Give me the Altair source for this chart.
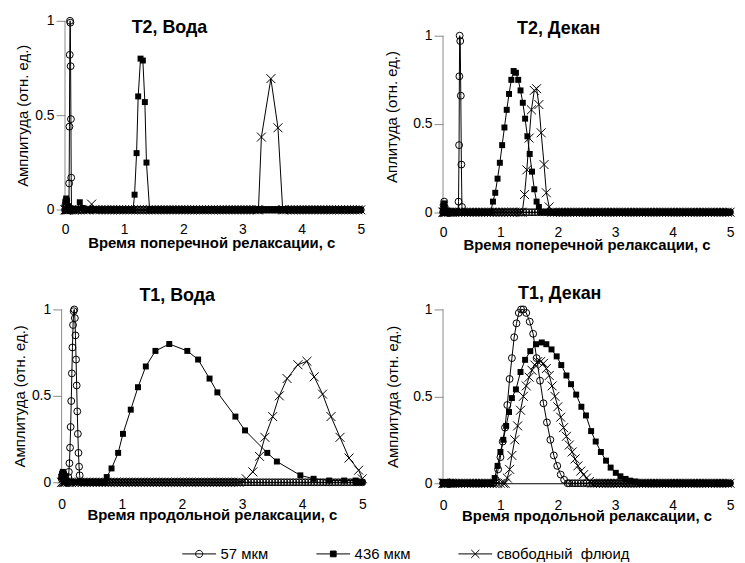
import altair as alt
import pandas as pd

FONT = "Liberation Sans"
SERIES = ["57 мкм", "436 мкм", "свободный \u00a0флюид"]

X_TICKS = [0, 1, 2, 3, 4, 5]
Y_TICKS = [0, 0.5, 1]

# sampling grid of the zero baseline (relaxation times, s)
BASE_X = [0.0, 0.01, 0.02, 0.03, 0.04, 0.05, 0.07, 0.1, 0.13, 0.16, 0.2, 0.25,
          0.3, 0.35, 0.4, 0.45, 0.5, 0.55, 0.6, 0.65, 0.7, 0.75, 0.8, 0.85, 0.9,
          0.95, 1.0, 1.05, 1.1, 1.15, 1.2, 1.25, 1.3, 1.35, 1.4, 1.45, 1.5, 1.55,
          1.6, 1.65, 1.7, 1.75, 1.8, 1.85, 1.9, 1.95, 2.0, 2.05, 2.1, 2.15, 2.2,
          2.25, 2.3, 2.35, 2.4, 2.45, 2.5, 2.55, 2.6, 2.65, 2.7, 2.75, 2.8, 2.85,
          2.9, 2.95, 3.0, 3.05, 3.1, 3.15, 3.2, 3.25, 3.3, 3.35, 3.4, 3.45, 3.5,
          3.55, 3.6, 3.65, 3.7, 3.75, 3.8, 3.85, 3.9, 3.95, 4.0, 4.05, 4.1, 4.15,
          4.2, 4.25, 4.3, 4.35, 4.4, 4.45, 4.5, 4.55, 4.6, 4.65, 4.7, 4.75, 4.8,
          4.85, 4.9, 4.95, 5.0]

# ---------------- T2, Вода ----------------
t2w_c_x = [0.065, 0.07, 0.075, 0.08, 0.085, 0.09, 0.095, 0.1, 0.105, 0.11]
t2w_c_y = [0.0, 0.14, 0.44, 0.82, 1.0, 0.99, 0.76, 0.48, 0.17, 0.0]
t2w_c_bx = [0.01, 0.02, 0.03]
t2w_c_by = [0.03, 0.05, 0.02]
t2w_s_x = [1.15, 1.176, 1.21, 1.237, 1.277, 1.316, 1.35, 1.377, 1.43]
t2w_s_y = [0.0, 0.08, 0.30, 0.60, 0.80, 0.79, 0.57, 0.25, 0.0]
t2w_s_bx = [0.01, 0.02, 0.03, 0.05, 0.25, 0.3]
t2w_s_by = [0.04, 0.06, 0.05, 0.02, 0.04, 0.01]
t2w_x_x = [3.27, 3.32, 3.48, 3.6, 3.68]
t2w_x_y = [0.0, 0.385, 0.694, 0.434, 0.0]
t2w_x_bx = [0.45]
t2w_x_by = [0.03]

# ---------------- T2, Декан ----------------
t2d_c_x = [0.26, 0.27, 0.28, 0.285, 0.29, 0.30, 0.31, 0.32, 0.33, 0.34]
t2d_c_y = [0.0, 0.06, 0.38, 0.77, 1.0, 0.97, 0.66, 0.27, 0.03, 0.0]
t2d_c_bx = [0.01, 0.02, 0.03]
t2d_c_by = [0.04, 0.06, 0.03]
t2d_s_x = [0.83, 0.87, 0.91, 0.95, 0.99, 1.03, 1.07, 1.11, 1.15, 1.19, 1.23, 1.27,
           1.31, 1.35, 1.39, 1.43, 1.47, 1.51, 1.55, 1.59, 1.63, 1.67, 1.71]
t2d_s_y = [0.0, 0.06, 0.11, 0.19, 0.28, 0.38, 0.48, 0.58, 0.67, 0.75, 0.80, 0.79,
           0.75, 0.69, 0.62, 0.53, 0.43, 0.33, 0.23, 0.13, 0.06, 0.03, 0.0]
t2d_s_bx = [0.01, 0.02, 0.03]
t2d_s_by = [0.03, 0.05, 0.02]
t2d_x_x = [1.38, 1.42, 1.46, 1.5, 1.54, 1.59, 1.63, 1.67, 1.71, 1.76, 1.8, 1.85, 1.9]
t2d_x_y = [0.0, 0.1, 0.24, 0.42, 0.58, 0.69, 0.7, 0.61, 0.45, 0.27, 0.11, 0.03, 0.0]
t2d_x_bx = []
t2d_x_by = []

# ---------------- T1, Вода ----------------
t1w_c_x = [0.10, 0.11, 0.12, 0.13, 0.14, 0.15, 0.16, 0.17, 0.18, 0.19, 0.20, 0.21,
           0.22, 0.23, 0.24, 0.25, 0.26, 0.27, 0.28, 0.29, 0.30, 0.31]
t1w_c_y = [0.0, 0.03, 0.06, 0.11, 0.2, 0.32, 0.47, 0.63, 0.78, 0.91, 0.99, 1.0,
           0.95, 0.85, 0.71, 0.56, 0.41, 0.28, 0.17, 0.09, 0.04, 0.0]
t1w_c_bx = [0.0, 0.01, 0.02, 0.03, 0.04, 0.05, 0.07]
t1w_c_by = [0.02, 0.04, 0.05, 0.05, 0.04, 0.03, 0.01]
t1w_s_x = [0.72, 0.75, 0.83, 0.94, 1.02, 1.15, 1.27, 1.40, 1.56, 1.79, 2.09, 2.27,
           2.46, 2.59, 2.89, 3.05, 3.42, 3.58, 3.97, 4.19, 4.45, 4.7, 4.89]
t1w_s_y = [0.0, 0.03, 0.08, 0.17, 0.28, 0.42, 0.55, 0.67, 0.76, 0.80, 0.76, 0.71,
           0.60, 0.52, 0.38, 0.30, 0.17, 0.12, 0.04, 0.02, 0.01, 0.01, 0.01]
t1w_s_bx = [0.0, 0.01, 0.02, 0.03, 0.05, 0.07]
t1w_s_by = [0.03, 0.05, 0.06, 0.05, 0.03, 0.01]
t1w_x_x = [2.95, 3.07, 3.18, 3.29, 3.38, 3.51, 3.62, 3.75, 3.93, 4.08, 4.2, 4.34,
           4.48, 4.63, 4.78, 4.94, 5.0]
t1w_x_y = [0.0, 0.02, 0.06, 0.15, 0.26, 0.38, 0.50, 0.60, 0.68, 0.70, 0.61, 0.51,
           0.38, 0.26, 0.14, 0.07, 0.02]
t1w_x_bx = [0.02]
t1w_x_by = [0.02]

# ---------------- T1, Декан ----------------
t1d_c_x = [0.88, 0.92, 0.96, 1.0, 1.04, 1.08, 1.12, 1.16, 1.2, 1.24, 1.28, 1.32,
           1.36, 1.40, 1.45, 1.51, 1.57, 1.63, 1.69, 1.75, 1.81, 1.87, 1.93, 1.99,
           2.05, 2.11, 2.17]
t1d_c_y = [0.0, 0.02, 0.08, 0.15, 0.24, 0.32, 0.45, 0.6, 0.72, 0.84, 0.92, 0.98,
           1.0, 1.0, 0.98, 0.93, 0.86, 0.72, 0.59, 0.46, 0.35, 0.25, 0.16, 0.1,
           0.05, 0.02, 0.0]
t1d_s_x = [0.84, 0.9, 0.95, 1.0, 1.05, 1.1, 1.15, 1.2, 1.27, 1.35, 1.43, 1.52, 1.62,
           1.72, 1.8, 1.89, 1.98, 2.06, 2.15, 2.23, 2.32, 2.41, 2.49, 2.58, 2.66,
           2.75, 2.84, 2.92, 3.01, 3.09, 3.18, 3.26, 3.35, 3.43]
t1d_s_y = [0.0, 0.03, 0.1, 0.18, 0.25, 0.33, 0.41, 0.49, 0.54, 0.64, 0.71, 0.76,
           0.8, 0.81, 0.8, 0.77, 0.73, 0.68, 0.62, 0.57, 0.51, 0.44, 0.39, 0.3,
           0.24, 0.18, 0.13, 0.09, 0.06, 0.04, 0.025, 0.015, 0.01, 0.0]
t1d_x_x = [1.08, 1.12, 1.16, 1.2, 1.25, 1.3, 1.35, 1.4, 1.45, 1.5, 1.55, 1.6, 1.65,
           1.7, 1.75, 1.8, 1.85, 1.9, 1.95, 2.0, 2.05, 2.1, 2.15, 2.2, 2.25, 2.3,
           2.35, 2.4, 2.45, 2.5, 2.55, 2.6]
t1d_x_y = [0.0, 0.03, 0.08, 0.16, 0.25, 0.33, 0.42, 0.5, 0.56, 0.61, 0.65, 0.68,
           0.7, 0.7, 0.69, 0.66, 0.62, 0.56, 0.5, 0.44, 0.38, 0.32, 0.27, 0.22,
           0.18, 0.14, 0.1, 0.07, 0.05, 0.03, 0.01, 0.0]


def build(px, py, bx=(), by=()):
    lo, hi = min(px), max(px)
    pts = {x: 0.0 for x in BASE_X if x < lo or x > hi}
    pts.update(dict(zip(bx, by)))
    pts.update(dict(zip(px, py)))
    xs = sorted(pts)
    return pd.DataFrame({"x": xs, "y": [pts[x] for x in xs]})


CROSS = "M-1,-1L1,1M-1,1L1,-1"
LEG_PATHS = [
    "M-1,0H1M-0.21,0A0.21,0.21,0,1,1,0.21,0A0.21,0.21,0,1,1,-0.21,0",
    "M-1,0H1M-0.17,-0.17H0.17V0.17H-0.17Z",
    "M-1,0H1M-0.24,-0.24L0.24,0.24M-0.24,0.24L0.24,-0.24",
]


def panel(dfs, title, tdx, tdy, xtitle, ytitle, w, h, xdom, ydom,
          lab_pad, xt_pad, yt_pad, y_off, legend=False):
    xenc = alt.X("x:Q", scale=alt.Scale(domain=xdom, nice=False, zero=False),
                 axis=alt.Axis(values=X_TICKS, format="d", title=xtitle,
                               tickSize=0, labelPadding=lab_pad,
                               titlePadding=xt_pad, domainColor="black",
                               grid=False, labelFlush=False,
                               titleFontWeight="bold", titleFontSize=15))
    yenc = alt.Y("y:Q", scale=alt.Scale(domain=ydom, nice=False, zero=False),
                 axis=alt.Axis(values=Y_TICKS, format="~g", title=ytitle,
                               domain=False, tickSize=9, tickColor="#8a8a8a",
                               labelPadding=2, titlePadding=yt_pad, offset=y_off,
                               grid=False, labelFlush=False,
                               titleFontWeight="normal", titleFontSize=15))
    axis_df = pd.DataFrame({"x": [0.0], "y": [0.0], "y2": [1.0]})
    layers = [alt.Chart(axis_df).mark_rule(color="#8a8a8a", strokeWidth=1)
              .encode(x=xenc, y=yenc, y2="y2:Q")]
    styles = [
        dict(shape="circle", filled=False, size=48),
        dict(shape="square", filled=True, size=36),
        dict(shape=CROSS, filled=False, size=81),
    ]
    for df, st in zip(dfs, styles):
        base = alt.Chart(df)
        layers.append(base.mark_line(color="black", strokeWidth=1)
                      .encode(x=xenc, y=yenc))
        if st["filled"]:
            pt = base.mark_point(shape=st["shape"], filled=True, color="black",
                                 size=st["size"], opacity=1)
        else:
            pt = base.mark_point(shape=st["shape"], filled=False, stroke="black",
                                 strokeWidth=1, size=st["size"], opacity=1)
        layers.append(pt.encode(x=xenc, y=yenc))
    if legend:
        leg_df = pd.DataFrame({"series": SERIES, "x": [0.0] * 3, "y": [0.0] * 3})
        leg = alt.Legend(orient="none", legendX=121, legendY=519,
                         direction="horizontal", title=None, labelFont=FONT,
                         labelFontSize=15, labelColor="black", symbolSize=1156,
                         symbolStrokeWidth=1, symbolStrokeColor="black",
                         symbolOpacity=1, labelOffset=4, columnPadding=45,
                         padding=0)
        layers.append(
            alt.Chart(leg_df).mark_point(opacity=0, filled=False, strokeWidth=1)
            .encode(x=xenc, y=yenc,
                    shape=alt.Shape("series:N", sort=SERIES,
                                    scale=alt.Scale(domain=SERIES, range=LEG_PATHS),
                                    legend=leg),
                    fill=alt.Fill("series:N", sort=SERIES,
                                  scale=alt.Scale(domain=SERIES,
                                                  range=["transparent", "black", "transparent"]),
                                  legend=leg),
                    stroke=alt.Stroke("series:N", sort=SERIES,
                                      scale=alt.Scale(domain=SERIES,
                                                      range=["black", "black", "black"]),
                                      legend=leg))
        )
    return alt.layer(*layers).properties(
        width=w, height=h,
        title=alt.TitleParams(title, font=FONT, fontSize=18, fontWeight="bold",
                              anchor="middle", frame="group", baseline="alphabetic",
                              offset=0, dx=tdx, dy=tdy, color="black"))


XT2 = "Время поперечной релаксации, с"
XT1 = "Время продольной релаксации, с"

p1 = panel([build(t2w_c_x, t2w_c_y, t2w_c_bx, t2w_c_by),
            build(t2w_s_x, t2w_s_y, t2w_s_bx, t2w_s_by),
            build(t2w_x_x, t2w_x_y, t2w_x_bx, t2w_x_by)],
           "T2, Вода", -42, 37.4, XT2, "Амплитуда (отн. ед.)",
           301.2, 190.3, [-0.057, 5], [0, 1], 13, -1, 4, -3.4)
p2 = panel([build(t2d_c_x, t2d_c_y, t2d_c_bx, t2d_c_by),
            build(t2d_s_x, t2d_s_y, t2d_s_bx, t2d_s_by),
            build(t2d_x_x, t2d_x_y, t2d_x_bx, t2d_x_by)],
           "T2, Декан", -28, 31.4, XT2, "Аплитуда (отн. ед.)",
           289, 192.7, [0, 5], [0, 1.0844], 13, -1, 13, 0)
p3 = panel([build(t1w_c_x, t1w_c_y, t1w_c_bx, t1w_c_by),
            build(t1w_s_x, t1w_s_y, t1w_s_bx, t1w_s_by),
            build(t1w_x_x, t1w_x_y, t1w_x_bx, t1w_x_by)],
           "T1, Вода", -35, 17, XT1, "Амплитуда (отн. ед.)",
           302.7, 174, [0, 5], [0, 1], 15.5, -4, 4, 0, legend=True)
p4 = panel([build(t1d_c_x, t1d_c_y),
            build(t1d_s_x, t1d_s_y),
            build(t1d_x_x, t1d_x_y)],
           "T1, Декан", -27, 14, XT1, "Амплитуда (отн. ед.)",
           289, 175, [0, 5], [0, 1], 15.5, -4, 12, 0)

chart = alt.concat(p1, p2, p3, p4, columns=2,
                   spacing={"row": 97.6, "column": 81},
                   bounds="flush", align="each").properties(
    padding={"left": 4, "top": 4, "right": 0, "bottom": 0}
).configure_view(stroke=None).configure_axis(
    labelFont=FONT, titleFont=FONT, labelFontSize=14, labelColor="black",
    titleColor="black"
).configure_title(font=FONT)

chart.save("out.html", embed_options={"renderer": "svg", "actions": False})
